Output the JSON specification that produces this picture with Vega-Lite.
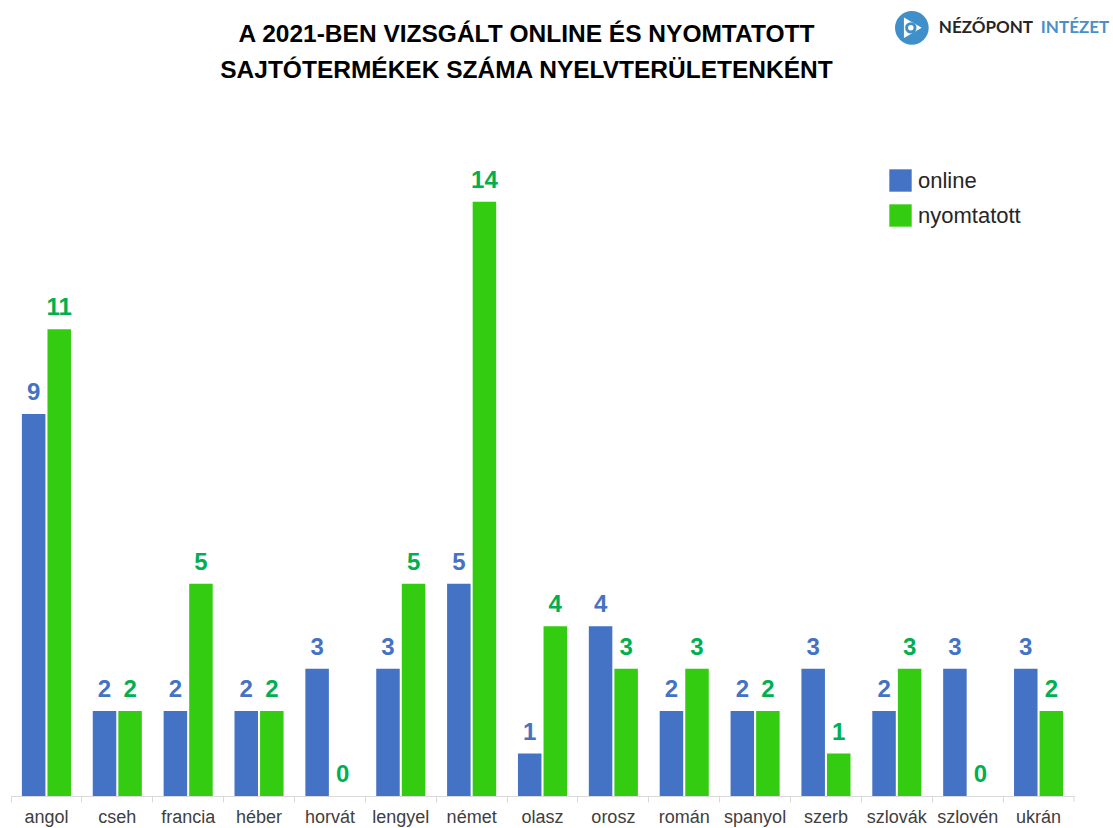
{"$schema":"https://vega.github.io/schema/vega-lite/v6.json","autosize":{"type":"none"},"padding":{"left":11,"top":100,"right":39,"bottom":32},"width":1063,"height":696,"background":"white","config":{"view":{"stroke":null}},
"datasets":{"d":[
{"n":"angol","s":"online","v":9},{"n":"angol","s":"nyomtatott","v":11},
{"n":"cseh","s":"online","v":2},{"n":"cseh","s":"nyomtatott","v":2},
{"n":"francia","s":"online","v":2},{"n":"francia","s":"nyomtatott","v":5},
{"n":"héber","s":"online","v":2},{"n":"héber","s":"nyomtatott","v":2},
{"n":"horvát","s":"online","v":3},{"n":"horvát","s":"nyomtatott","v":0},
{"n":"lengyel","s":"online","v":3},{"n":"lengyel","s":"nyomtatott","v":5},
{"n":"német","s":"online","v":5},{"n":"német","s":"nyomtatott","v":14},
{"n":"olasz","s":"online","v":1},{"n":"olasz","s":"nyomtatott","v":4},
{"n":"orosz","s":"online","v":4},{"n":"orosz","s":"nyomtatott","v":3},
{"n":"román","s":"online","v":2},{"n":"román","s":"nyomtatott","v":3},
{"n":"spanyol","s":"online","v":2},{"n":"spanyol","s":"nyomtatott","v":2},
{"n":"szerb","s":"online","v":3},{"n":"szerb","s":"nyomtatott","v":1},
{"n":"szlovák","s":"online","v":2},{"n":"szlovák","s":"nyomtatott","v":3},
{"n":"szlovén","s":"online","v":3},{"n":"szlovén","s":"nyomtatott","v":0},
{"n":"ukrán","s":"online","v":3},{"n":"ukrán","s":"nyomtatott","v":2}]},
"data":{"name":"d"},
"layer":[
{"mark":{"type":"bar","width":23.5},"encoding":{
"x":{"field":"n","type":"nominal","sort":null,"scale":{"paddingInner":0.3,"paddingOuter":0.15},"axis":{"title":null,"labelAngle":0,"labelFont":"Liberation Sans","labelFontSize":18,"labelColor":"#404040","domainColor":"#d9d9d9","tickColor":"#d9d9d9","tickSize":6,"labelPadding":6,"bandPosition":-0.214}},
"xOffset":{"field":"s","type":"nominal","sort":["online","nyomtatott"],"scale":{"paddingInner":0.06}},
"y":{"field":"v","type":"quantitative","scale":{"domain":[0,16.4]},"axis":null},
"color":{"field":"s","type":"nominal","sort":["online","nyomtatott"],"scale":{"domain":["online","nyomtatott"],"range":["#4472c4","#33cc11"]},"legend":{"title":null,"orient":"none","legendX":878,"legendY":69,"symbolType":"square","symbolSize":500,"symbolStrokeWidth":0,"labelFont":"Liberation Sans","labelFontSize":22,"labelColor":"#262626","rowPadding":12,"labelOffset":6}}}},
{"mark":{"type":"text","baseline":"bottom","dy":-9,"font":"Liberation Sans","fontSize":24,"fontWeight":"bold"},"encoding":{
"x":{"field":"n","type":"nominal","sort":null},
"xOffset":{"field":"s","type":"nominal","sort":["online","nyomtatott"]},
"y":{"field":"v","type":"quantitative","scale":{"domain":[0,16.4]}},
"text":{"field":"v","type":"quantitative"},
"color":{"field":"s","type":"nominal","sort":["online","nyomtatott"],"scale":{"domain":["online","nyomtatott"],"range":["#4472c4","#00b050"]},"legend":null}}},
{"data":{"values":[{"t":"NÉZŐPONT"}]},"mark":{"type":"text","align":"left","baseline":"middle","dx":42,"font":"Lato","fontSize":17,"fontWeight":"bold","color":"#262626"},"encoding":{"x":{"datum":"szlovák"},"y":{"datum":18.1,"scale":{"domain":[0,16.4]}},"text":{"field":"t"}}},
{"data":{"values":[{"t":"INTÉZET"}]},"mark":{"type":"text","align":"left","baseline":"middle","dx":144,"font":"Lato","fontSize":17,"fontWeight":"bold","color":"#4a90c8"},"encoding":{"x":{"datum":"szlovák"},"y":{"datum":18.1,"scale":{"domain":[0,16.4]}},"text":{"field":"t"}}},
{"data":{"values":[{"t":"logo"}]},"mark":{"type":"point","filled":true,"opacity":1,"color":"#3f8fcb","size":1134,"xOffset":15},"encoding":{"x":{"datum":"szlovák"},"y":{"datum":18.1,"scale":{"domain":[0,16.4]}}}},
{"data":{"values":[{"t":"logo"}]},"mark":{"type":"point","shape":"triangle-right","filled":true,"opacity":1,"color":"#ffffff","size":420,"xOffset":16},"encoding":{"x":{"datum":"szlovák"},"y":{"datum":18.1,"scale":{"domain":[0,16.4]}}}},
{"data":{"values":[{"t":"logo"}]},"mark":{"type":"point","filled":true,"opacity":1,"color":"#3f8fcb","size":130,"xOffset":14},"encoding":{"x":{"datum":"szlovák"},"y":{"datum":18.1,"scale":{"domain":[0,16.4]}}}},
{"data":{"values":[{"t":"logo"}]},"mark":{"type":"point","filled":true,"opacity":1,"color":"#ffffff","size":30,"xOffset":14},"encoding":{"x":{"datum":"szlovák"},"y":{"datum":18.1,"scale":{"domain":[0,16.4]}}}},
{"data":{"values":[{"t":"endtick"}]},"mark":{"type":"rule","color":"#d9d9d9"},"encoding":{"x":{"datum":"ukrán","bandPosition":1.214},"y":{"datum":0,"scale":{"domain":[0,16.4]}},"y2":{"datum":-0.14}}}
],
"resolve":{"scale":{"color":"independent"}},
"title":{"text":["A 2021-BEN VIZSGÁLT ONLINE ÉS NYOMTATOTT","SAJTÓTERMÉKEK SZÁMA NYELVTERÜLETENKÉNT"],"font":"Liberation Sans","fontSize":24.5,"fontWeight":"bold","color":"#000000","anchor":"middle","frame":"group","dx":-16,"offset":-72,"lineHeight":36}}
